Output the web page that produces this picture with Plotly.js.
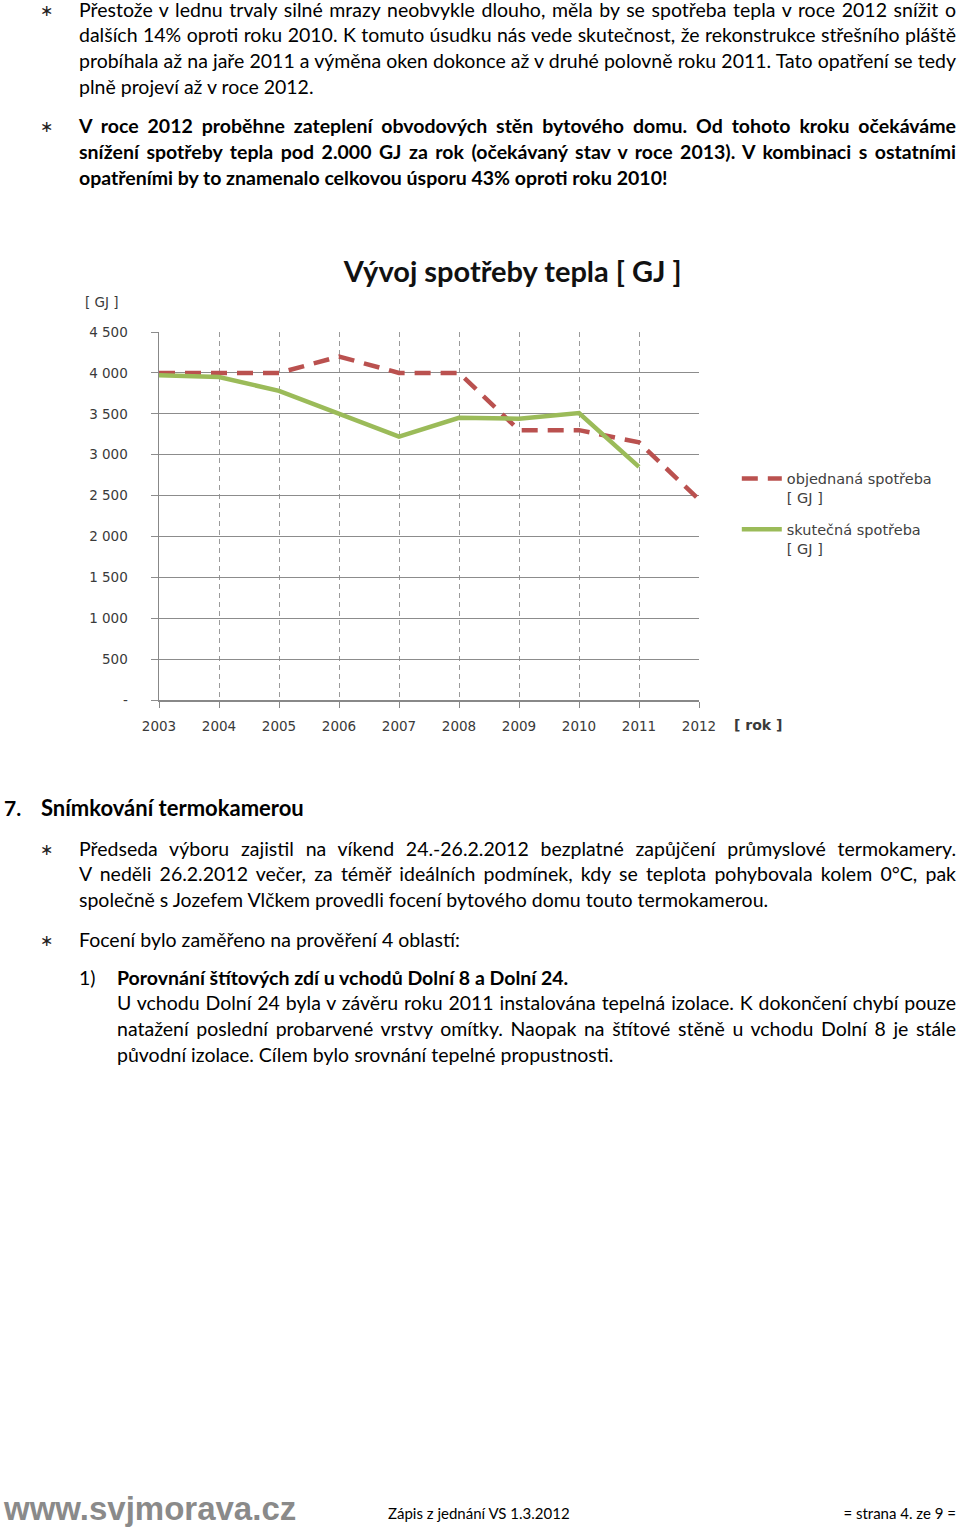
<!DOCTYPE html>
<html><head><meta charset="utf-8">
<script src="https://cdn.plot.ly/plotly-3.0.1.min.js"></script>
<style>
html,body{margin:0;padding:0;background:#fff;}
body{width:960px;height:1529px;position:relative;overflow:hidden;font-family:Lato,"Open Sans",sans-serif;color:#000;}
.ln{position:absolute;height:26px;line-height:26px;font-size:19.5px;white-space:nowrap;}
.j{text-align:justify;text-align-last:justify;}
.b{font-weight:bold;}
.bul{position:absolute;font-size:16px;line-height:26px;height:26px;color:#222;}
#chart{position:absolute;left:0;top:240px;width:960px;height:520px;}
</style></head><body>
<div class="bul" style="left:40px;top:-3px">∗</div>
<div class="ln j" style="left:79px;width:877px;top:-3px">Přestože v lednu trvaly silné mrazy neobvykle dlouho, měla by se spotřeba tepla v roce 2012 snížit o</div>
<div class="ln j" style="left:79px;width:877px;top:22px">dalších 14% oproti roku 2010. K tomuto úsudku nás vede skutečnost, že rekonstrukce střešního pláště</div>
<div class="ln j" style="left:79px;width:877px;top:48px">probíhala až na jaře 2011 a výměna oken dokonce až v druhé polovně roku 2011. Tato opatření se tedy</div>
<div class="ln" style="left:79px;top:74px">plně projeví až v roce 2012.</div>

<div class="bul" style="left:40px;top:113px">∗</div>
<div class="ln j b" style="left:79px;width:877px;top:113px">V roce 2012 proběhne zateplení obvodových stěn bytového domu. Od tohoto kroku očekáváme</div>
<div class="ln j b" style="left:79px;width:877px;top:139px">snížení spotřeby tepla pod 2.000 GJ za rok (očekávaný stav v roce 2013). V kombinaci s ostatními</div>
<div class="ln b" style="left:79px;top:165px">opatřeními by to znamenalo celkovou úsporu 43% oproti roku 2010!</div>

<div id="chart"></div>

<div class="ln b" style="left:4px;top:795px;font-size:21px">7.</div>
<div class="ln b" style="left:41px;top:795px;font-size:22px">Snímkování termokamerou</div>

<div class="bul" style="left:40px;top:836px">∗</div>
<div class="ln j" style="left:79px;width:877px;top:836px">Předseda výboru zajistil na víkend 24.-26.2.2012 bezplatné zapůjčení průmyslové termokamery.</div>
<div class="ln j" style="left:79px;width:877px;top:861px">V neděli 26.2.2012 večer, za téměř ideálních podmínek, kdy se teplota pohybovala kolem 0°C, pak</div>
<div class="ln" style="left:79px;top:887px">společně s Jozefem Vlčkem provedli focení bytového domu touto termokamerou.</div>

<div class="bul" style="left:40px;top:927px">∗</div>
<div class="ln" style="left:79px;top:927px">Focení bylo zaměřeno na prověření 4 oblastí:</div>

<div class="ln" style="left:79px;top:965px">1)</div>
<div class="ln b" style="left:117px;top:965px">Porovnání štítových zdí u vchodů Dolní 8 a Dolní 24.</div>
<div class="ln j" style="left:117px;width:839px;top:990px">U vchodu Dolní 24 byla v závěru roku 2011 instalována tepelná izolace. K dokončení chybí pouze</div>
<div class="ln j" style="left:117px;width:839px;top:1016px">natažení poslední probarvené vrstvy omítky. Naopak na štítové stěně u vchodu Dolní 8 je stále</div>
<div class="ln" style="left:117px;top:1042px">původní izolace. Cílem bylo srovnání tepelné propustnosti.</div>

<div style="position:absolute;left:4px;top:1489px;font-family:'Liberation Sans',Arial,sans-serif;font-weight:bold;font-size:33px;color:#8a8a8a;line-height:40px;">www.svjmorava.cz</div>
<div style="position:absolute;left:388px;top:1503px;font-size:15px;line-height:20px;">Zápis z jednání VS 1.3.2012</div>
<div style="position:absolute;right:4px;top:1503px;font-size:15px;line-height:20px;">= strana 4. ze 9 =</div>

<script>
const years = [2003, 2004, 2005, 2006, 2007, 2008, 2009, 2010, 2011, 2012];
const ordered = [4000, 4000, 4000, 4200, 4000, 4000, 3300, 3300, 3150, 2450];
const actual = [3970, 3950, 3780, 3500, 3220, 3450, 3440, 3510, 2850, null];
const yTickVals = [0, 500, 1000, 1500, 2000, 2500, 3000, 3500, 4000, 4500];
const yTickText = ['-', '500', '1 000', '1 500', '2 000', '2 500', '3 000', '3 500', '4 000', '4 500'];
const seriesNames = ['objednaná spotřeba<br>[ GJ ]', 'skutečná spotřeba<br>[ GJ ]'];

const tickFont = {family: 'DejaVu Sans, Verdana, sans-serif', size: 13.5, color: '#3a3a3a'};
const traces = [
  {x: years, y: ordered, name: seriesNames[0], legendgroup: 'a', mode: 'lines', type: 'scatter', cliponaxis: false,
   line: {color: '#BA514F', width: 4.5, dash: '16px,10px'}},
  {x: years, y: actual, name: seriesNames[1], legendgroup: 'b', mode: 'lines', type: 'scatter', cliponaxis: false,
   line: {color: '#9BBB59', width: 4.5}}
];
const layout = {
  width: 960, height: 520,
  margin: {l: 159, r: 261, t: 92, b: 60},
  paper_bgcolor: '#fff', plot_bgcolor: '#fff',
  font: {family: 'DejaVu Sans, Verdana, sans-serif', color: '#404040'},
  title: {text: 'Vývoj spotřeby tepla [ GJ ]', x: 0.534, xref: 'container', y: 0.938, yref: 'container',
          xanchor: 'center', yanchor: 'middle',
          font: {family: 'Lato, Open Sans, sans-serif', size: 29, color: '#111', weight: 'bold'}},
  showlegend: true,
  legend: {x: 1.07, y: 0.645, xanchor: 'left', yanchor: 'top', valign: 'top',
           font: {family: 'DejaVu Sans, Verdana, sans-serif', size: 14.5, color: '#404040'},
           tracegroupgap: 10, itemwidth: 40, bgcolor: 'rgba(0,0,0,0)'},
  xaxis: {range: [2003, 2012], tickvals: years, ticktext: years.map(String), tickfont: tickFont,
          showgrid: true, gridcolor: '#9a9a9a', griddash: '5px,4px', gridwidth: 1,
          showline: true, linecolor: '#888', linewidth: 1.5,
          ticks: 'outside', ticklen: 6, tickcolor: '#888', ticklabelstandoff: 7, zeroline: false, fixedrange: true},
  yaxis: {range: [0, 4500], tickvals: yTickVals, ticktext: yTickText, tickfont: tickFont,
          showgrid: true, gridcolor: '#8c8c8c', gridwidth: 1.2,
          showline: true, linecolor: '#888', linewidth: 1.5,
          ticks: 'outside', ticklen: 7, tickcolor: '#8c8c8c', ticklabelstandoff: 20, zeroline: false, fixedrange: true},
  annotations: [
    {text: '[ GJ ]', xref: 'paper', yref: 'paper', x: -0.14, y: 1.082, xanchor: 'left', yanchor: 'middle', showarrow: false,
     font: {family: 'DejaVu Sans, Verdana, sans-serif', size: 13.5, color: '#3a3a3a'}},
    {text: '<b>[ rok ]</b>', xref: 'paper', yref: 'paper', x: 1.061, y: -0.068, xanchor: 'left', yanchor: 'middle', showarrow: false,
     font: {family: 'DejaVu Sans, Verdana, sans-serif', size: 14, color: '#3a3a3a'}}
  ]
};
Plotly.newPlot('chart', traces, layout, {displayModeBar: false, staticPlot: true});
</script>
</body></html>
